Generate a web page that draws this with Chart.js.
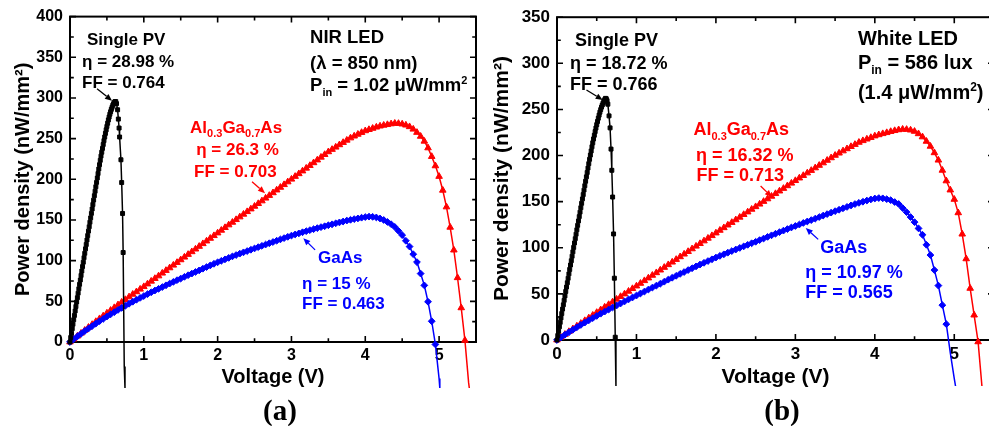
<!DOCTYPE html>
<html>
<head>
<meta charset="utf-8">
<script src="https://cdn.jsdelivr.net/npm/chart.js@4/dist/chart.umd.min.js"></script>
<style>
  html, body { margin: 0; padding: 0; background: #fff; overflow: hidden; width: 989px; height: 426px; }
  #wrap { position: relative; width: 989px; height: 426px; overflow: hidden; }
  canvas { position: absolute; top: 0; }
  #chartA { left: 0; }
  #chartB { left: 490px; }
  .tag { position: absolute; top: 410px; transform: translate(-50%, -50%);
         font: bold 29px "Liberation Serif", "Times New Roman", serif; color: #000; }
</style>
</head>
<body>
<div id="wrap">
  <canvas id="chartA" width="490" height="426"></canvas>
  <canvas id="chartB" width="509" height="426"></canvas>
  <div class="tag" style="left:280px">(a)</div>
  <div class="tag" style="left:782px">(b)</div>
</div>
<script>
// ---- Axis ticks ----
const xTicks = [0, 1, 2, 3, 4, 5];
const yTicksA = [0, 50, 100, 150, 200, 250, 300, 350, 400];
const yTicksB = [0, 50, 100, 150, 200, 250, 300, 350];

// ---- (a) NIR LED, λ = 850 nm : [voltage (V), power density (nW/mm²)] ----
const nirSinglePV = [[0,0],[0.01,5.5],[0.02,10.9],[0.03,16.4],[0.04,21.8],[0.05,27.3],[0.06,32.7],[0.07,38.2],[0.08,43.6],[0.09,49.1],[0.10,54.5],[0.11,60],[0.12,65.4],[0.13,70.9],[0.14,76.3],[0.15,81.8],[0.16,87.2],[0.17,92.7],[0.18,98.1],[0.19,103.6],[0.20,109],[0.21,114.5],[0.22,119.9],[0.23,125.4],[0.24,130.8],[0.25,136.3],[0.26,141.7],[0.27,147.2],[0.28,152.6],[0.29,158.1],[0.30,163.5],[0.31,169],[0.32,174.4],[0.33,179.9],[0.34,185.3],[0.35,190.8],[0.36,196.2],[0.37,201.7],[0.38,207.1],[0.39,212.6],[0.40,218],[0.41,223.3],[0.42,228.5],[0.43,233.3],[0.44,238],[0.45,242.8],[0.46,247.5],[0.47,252],[0.48,256.5],[0.49,260.8],[0.50,265],[0.51,269],[0.52,273],[0.53,276.5],[0.54,280],[0.55,283],[0.56,286],[0.57,288.5],[0.58,291],[0.59,292.8],[0.60,294.5],[0.61,295.5],[0.62,295.5],[0.63,293],[0.645,285.5],[0.655,274],[0.665,263],[0.672,252],[0.69,224],[0.70,196],[0.712,158],[0.72,110],[0.735,-30],[0.745,-57]];

const nirAlGaAs = [[0,0],[0.05,3.6],[0.1,7.2],[0.15,10.8],[0.2,14.4],[0.25,18],[0.3,21.5],[0.35,25.1],[0.4,28.6],[0.45,32],[0.5,35.5],[0.55,38.9],[0.6,42.2],[0.65,45.6],[0.7,48.9],[0.75,52.1],[0.8,55.4],[0.85,58.6],[0.9,61.7],[0.95,64.9],[1,68],[1.05,71.3],[1.1,74.7],[1.15,78],[1.2,81.2],[1.25,84.6],[1.3,87.9],[1.35,91.1],[1.4,94.4],[1.45,97.7],[1.5,101],[1.55,104.3],[1.6,107.6],[1.65,110.9],[1.7,114.2],[1.75,117.5],[1.8,120.8],[1.85,124.1],[1.9,127.4],[1.95,130.7],[2,134],[2.05,137.3],[2.1,140.6],[2.15,143.9],[2.2,147.1],[2.25,150.4],[2.3,153.7],[2.35,157],[2.4,160.2],[2.45,163.5],[2.5,166.8],[2.55,170.1],[2.6,173.4],[2.65,176.8],[2.7,180.1],[2.75,183.4],[2.8,186.8],[2.85,190.1],[2.9,193.4],[2.95,196.8],[3,200.1],[3.05,203.5],[3.1,206.8],[3.15,210.2],[3.2,213.6],[3.25,216.9],[3.3,220.3],[3.35,223.7],[3.4,227.1],[3.45,230.4],[3.5,233.8],[3.55,236.7],[3.6,239.5],[3.65,242.4],[3.7,245.2],[3.75,248],[3.8,250.8],[3.85,253.1],[3.9,255.3],[3.95,257.5],[4,259.6],[4.05,261.1],[4.1,262.6],[4.15,264.1],[4.2,265.4],[4.25,266.4],[4.3,267.2],[4.35,268.1],[4.4,268.8],[4.45,268.6],[4.5,267.9],[4.55,266.6],[4.6,264.6],[4.65,261.6],[4.7,257.6],[4.75,252.8],[4.8,246.8],[4.85,238.6],[4.9,228],[4.95,216.5],[5,203.5],[5.05,186.5],[5.1,166],[5.15,141],[5.2,113],[5.25,79],[5.3,42],[5.35,2],[5.4,-50],[5.41,-57]];

const nirGaAs = [[0,0],[0.05,3.5],[0.1,6.8],[0.15,10.1],[0.2,13.4],[0.25,16.5],[0.3,19.6],[0.35,22.6],[0.4,25.6],[0.45,28.4],[0.5,31.3],[0.55,34],[0.6,36.7],[0.65,39.4],[0.7,42],[0.75,44.5],[0.8,47],[0.85,49.5],[0.9,51.9],[0.95,54.2],[1,56.5],[1.05,58.8],[1.1,61.1],[1.15,63.3],[1.2,65.4],[1.25,67.5],[1.3,69.7],[1.35,71.8],[1.4,73.9],[1.45,76],[1.5,78],[1.55,80.1],[1.6,82.1],[1.65,84.1],[1.7,86.1],[1.75,88],[1.8,90.1],[1.85,92.1],[1.9,94.1],[1.95,96.1],[2,98],[2.05,99.8],[2.1,101.6],[2.15,103.4],[2.2,105.2],[2.25,106.9],[2.3,108.6],[2.35,110.2],[2.4,111.8],[2.45,113.4],[2.5,115],[2.55,116.6],[2.6,118.2],[2.65,119.8],[2.7,121.4],[2.75,122.9],[2.8,124.5],[2.85,126.1],[2.9,127.7],[2.95,129.3],[3,130.8],[3.05,132.2],[3.1,133.5],[3.15,134.9],[3.2,136.2],[3.25,137.5],[3.3,138.7],[3.35,140],[3.4,141.2],[3.45,142.3],[3.5,143.5],[3.55,144.7],[3.6,145.9],[3.65,147],[3.7,148.1],[3.75,149.3],[3.8,150.2],[3.85,151.1],[3.9,151.9],[3.95,152.8],[4,153.6],[4.05,154.1],[4.1,153.9],[4.15,153.1],[4.2,151.8],[4.25,150],[4.3,147.6],[4.35,144.8],[4.4,141.4],[4.45,136.6],[4.5,131.4],[4.55,124.4],[4.6,117.3],[4.65,107.9],[4.7,98.2],[4.75,84.1],[4.8,69.6],[4.85,49.5],[4.9,25.5],[4.95,-3],[5,-45],[5.01,-57]];

// ---- (b) White LED, 586 lux (1.4 μW/mm²) ----
const whiteSinglePV = [[0,0],[0.01,4.8],[0.02,9.6],[0.03,14.3],[0.04,19.1],[0.05,23.9],[0.06,28.7],[0.07,33.5],[0.08,38.2],[0.09,43],[0.10,47.8],[0.11,52.6],[0.12,57.4],[0.13,62.1],[0.14,66.9],[0.15,71.7],[0.16,76.5],[0.17,81.3],[0.18,86],[0.19,90.8],[0.20,95.6],[0.21,100.4],[0.22,105.2],[0.23,109.9],[0.24,114.7],[0.25,119.5],[0.26,124.3],[0.27,129.1],[0.28,133.8],[0.29,138.6],[0.30,143.4],[0.31,148.2],[0.32,153],[0.33,157.7],[0.34,162.5],[0.35,167.3],[0.36,172.1],[0.37,176.9],[0.38,181.6],[0.39,186.4],[0.40,191.2],[0.41,195.9],[0.42,200.5],[0.43,205],[0.44,209.5],[0.45,213.8],[0.46,218],[0.47,222],[0.48,226],[0.49,229.8],[0.50,233.5],[0.51,237],[0.52,240.5],[0.53,243.8],[0.54,247],[0.55,249.8],[0.56,252.5],[0.57,254.8],[0.58,257],[0.59,258.8],[0.60,260.5],[0.61,262],[0.62,261.5],[0.63,259.5],[0.64,255.7],[0.655,243],[0.668,230],[0.68,207],[0.69,184],[0.70,155],[0.712,115],[0.722,67],[0.733,3],[0.742,-52]];

const whiteAlGaAs = [[0,0],[0.05,3],[0.1,6.1],[0.15,9.1],[0.2,12.1],[0.25,15.1],[0.3,18],[0.35,21],[0.4,23.9],[0.45,26.8],[0.5,29.8],[0.55,32.7],[0.6,35.6],[0.65,38.4],[0.7,41.3],[0.75,44.2],[0.8,47.1],[0.85,49.9],[0.9,52.8],[0.95,55.7],[1,58.5],[1.05,61.4],[1.1,64.3],[1.15,67.2],[1.2,70.1],[1.25,72.9],[1.3,75.8],[1.35,78.7],[1.4,81.6],[1.45,84.4],[1.5,87.3],[1.55,90.2],[1.6,93.1],[1.65,95.9],[1.7,98.8],[1.75,101.7],[1.8,104.5],[1.85,107.4],[1.9,110.3],[1.95,113.1],[2,116],[2.05,118.9],[2.1,121.7],[2.15,124.6],[2.2,127.4],[2.25,130.3],[2.3,133.1],[2.35,136],[2.4,138.8],[2.45,141.7],[2.5,144.5],[2.55,147.3],[2.6,150.2],[2.65,153],[2.7,155.8],[2.75,158.7],[2.8,161.5],[2.85,164.3],[2.9,167.2],[2.95,170],[3,172.8],[3.05,175.6],[3.1,178.3],[3.15,181.1],[3.2,183.8],[3.25,186.6],[3.3,189.3],[3.35,192],[3.4,194.8],[3.45,197.5],[3.5,200.2],[3.55,202.6],[3.6,205],[3.65,207.3],[3.7,209.7],[3.75,212],[3.8,214.3],[3.85,216.1],[3.9,217.8],[3.95,219.5],[4,221.2],[4.05,222.5],[4.1,223.7],[4.15,224.8],[4.2,226],[4.25,227],[4.3,227.9],[4.35,228.5],[4.4,228.3],[4.45,227.6],[4.5,226.2],[4.55,223.6],[4.6,220.2],[4.65,215.4],[4.7,210],[4.75,203],[4.8,195],[4.85,184],[4.9,172.5],[4.95,162.6],[5,152.5],[5.05,137.9],[5.1,114.8],[5.15,88],[5.2,56],[5.25,27],[5.3,-2],[5.35,-52]];

const whiteGaAs = [[0,0],[0.05,2.9],[0.1,5.7],[0.15,8.4],[0.2,11.1],[0.25,13.8],[0.3,16.3],[0.35,18.9],[0.4,21.3],[0.45,23.7],[0.5,26.1],[0.55,28.5],[0.6,30.8],[0.65,33],[0.7,35.3],[0.75,37.4],[0.8,39.6],[0.85,41.8],[0.9,44],[0.95,46.1],[1,48.2],[1.05,50.4],[1.1,52.5],[1.15,54.7],[1.2,56.8],[1.25,58.9],[1.3,61],[1.35,63.2],[1.4,65.4],[1.45,67.5],[1.5,69.6],[1.55,71.7],[1.6,73.7],[1.65,75.8],[1.7,77.8],[1.75,79.8],[1.8,81.8],[1.85,83.7],[1.9,85.6],[1.95,87.5],[2,89.4],[2.05,91.2],[2.1,92.9],[2.15,94.7],[2.2,96.4],[2.25,98.1],[2.3,99.8],[2.35,101.5],[2.4,103.2],[2.45,104.9],[2.5,106.5],[2.55,108.3],[2.6,110],[2.65,111.8],[2.7,113.5],[2.75,115.2],[2.8,116.9],[2.85,118.6],[2.9,120.3],[2.95,122],[3,123.6],[3.05,125.2],[3.1,126.9],[3.15,128.5],[3.2,130],[3.25,131.6],[3.3,133.3],[3.35,134.9],[3.4,136.5],[3.45,138.1],[3.5,139.7],[3.55,141.2],[3.6,142.8],[3.65,144.3],[3.7,145.9],[3.75,147.4],[3.8,148.7],[3.85,149.9],[3.9,151.2],[3.95,152.4],[4,153.4],[4.05,153.9],[4.1,153.6],[4.15,152.7],[4.2,151.6],[4.25,149.6],[4.3,147.5],[4.35,143.1],[4.4,138.6],[4.45,133.3],[4.5,127.8],[4.55,121],[4.6,114.1],[4.65,103.2],[4.7,92.1],[4.75,75.8],[4.8,59],[4.85,37.8],[4.9,17.2],[4.95,-13.9],[5,-42],[5.02,-52]];

// ---- Drawing helpers ----
const SANS = '"Liberation Sans", Arial, Helvetica, sans-serif';
const RED = '#ff0000', BLUE = '#0000ff', BLACK = '#000000';

function drawRich(ctx, x, y, parts, size, align) {
  const main = `bold ${size}px ${SANS}`;
  const small = `bold ${Math.round(size * 0.62)}px ${SANS}`;
  const segs = parts.map(p => typeof p === 'string' ? {t: p, k: 'n'} : {t: p[0], k: p[1]});
  let total = 0;
  for (const s of segs) {
    ctx.font = s.k === 'n' ? main : small;
    s.w = ctx.measureText(s.t).width;
    total += s.w;
  }
  let cx = align === 'center' ? x - total / 2 : x;
  const base = y + size * 0.36;
  ctx.textAlign = 'left';
  ctx.textBaseline = 'alphabetic';
  for (const s of segs) {
    ctx.font = s.k === 'n' ? main : small;
    const dy = s.k === 'sub' ? size * 0.24 : (s.k === 'sup' ? -size * 0.42 : 0);
    ctx.fillText(s.t, cx, base + dy);
    cx += s.w;
  }
}

function drawArrow(ctx, x1, y1, x2, y2, color) {
  const ang = Math.atan2(y2 - y1, x2 - x1);
  const hl = 7, hw = 3;
  ctx.strokeStyle = color;
  ctx.fillStyle = color;
  ctx.lineWidth = 1.3;
  ctx.beginPath();
  ctx.moveTo(x1, y1);
  ctx.lineTo(x2 - hl * Math.cos(ang), y2 - hl * Math.sin(ang));
  ctx.stroke();
  ctx.beginPath();
  ctx.moveTo(x2, y2);
  ctx.lineTo(x2 - hl * Math.cos(ang) + hw * Math.sin(ang), y2 - hl * Math.sin(ang) - hw * Math.cos(ang));
  ctx.lineTo(x2 - hl * Math.cos(ang) - hw * Math.sin(ang), y2 - hl * Math.sin(ang) + hw * Math.cos(ang));
  ctx.closePath();
  ctx.fill();
}

// Closed box with inward major/minor ticks on all four sides
const frameTicks = {
  id: 'frameTicks',
  beforeDatasetsDraw(chart, args, opts) {
    const {ctx, chartArea: a, scales: {x, y}} = chart;
    ctx.save();
    ctx.strokeStyle = BLACK;
    ctx.lineWidth = 2;
    ctx.strokeRect(a.left, a.top, a.right - a.left, a.bottom - a.top);
    ctx.lineWidth = 1.6;
    ctx.beginPath();
    const majorLen = 6, minorLen = 3.8;
    for (let i = 0; i * opts.xMinor <= x.max + 1e-9; i++) {
      const px = x.getPixelForValue(i * opts.xMinor);
      const len = (i % 2 === 0) ? majorLen : minorLen;
      ctx.moveTo(px, a.bottom); ctx.lineTo(px, a.bottom - len);
      ctx.moveTo(px, a.top); ctx.lineTo(px, a.top + len);
    }
    for (let i = 0; i * opts.yMinor <= y.max + 1e-9; i++) {
      const py = y.getPixelForValue(i * opts.yMinor);
      const len = (i % 2 === 0) ? majorLen : minorLen;
      ctx.moveTo(a.left, py); ctx.lineTo(a.left + len, py);
      ctx.moveTo(a.right, py); ctx.lineTo(a.right - len, py);
    }
    ctx.stroke();
    ctx.restore();
  }
};

// Curve labels and pointer arrows, placed in data coordinates
const notes = {
  id: 'notes',
  afterDatasetsDraw(chart, args, opts) {
    const {ctx, scales: {x, y}} = chart;
    ctx.save();
    for (const n of opts.items) {
      ctx.fillStyle = n.color;
      drawRich(ctx, x.getPixelForValue(n.v), y.getPixelForValue(n.p), n.parts, n.size, n.align || 'left');
    }
    for (const ar of opts.arrows) {
      drawArrow(ctx, x.getPixelForValue(ar.from[0]), y.getPixelForValue(ar.from[1]),
                x.getPixelForValue(ar.to[0]), y.getPixelForValue(ar.to[1]), ar.color);
    }
    ctx.restore();
  }
};

function series(data, color, style, radius) {
  return {
    data: data.map(d => ({x: d[0], y: d[1]})),
    borderColor: color,
    backgroundColor: color,
    pointBackgroundColor: color,
    pointBorderColor: color,
    pointBorderWidth: 1,
    pointStyle: style,
    pointRadius: radius,
    borderWidth: 1.5,
    tension: 0,
    clip: {left: 8, top: 8, right: 8, bottom: 46}
  };
}

function makeChart(id, cfg) {
  return new Chart(document.getElementById(id), {
    type: 'line',
    data: {
      datasets: [
        series(cfg.pv, BLACK, 'rect', 2.8),
        series(cfg.gaas, BLUE, 'rectRot', 3.4),
        series(cfg.algaas, RED, 'triangle', 3.8)
      ]
    },
    options: {
      responsive: false,
      animation: false,
      devicePixelRatio: 1,
      layout: {padding: {left: 0, right: cfg.padRight, top: 16, bottom: 0}},
      events: [],
      scales: {
        x: {
          type: 'linear', min: 0, max: 5.5,
          grid: {display: false, drawTicks: false},
          border: {display: false},
          afterBuildTicks: s => { s.ticks = xTicks.map(v => ({value: v})); },
          afterFit: s => { s.height = cfg.xAxisH; },
          ticks: {color: BLACK, padding: 4, maxRotation: 0, autoSkip: false,
                  font: {family: SANS, size: cfg.tickSize, weight: 'bold'}},
          title: {display: true, text: 'Voltage (V)', color: BLACK,
                  padding: {top: 0, bottom: cfg.xTitlePad},
                  font: {family: SANS, size: cfg.titleSize, weight: 'bold'}}
        },
        y: {
          type: 'linear', min: 0, max: cfg.yMax,
          grid: {display: false, drawTicks: false},
          border: {display: false},
          afterBuildTicks: s => { s.ticks = cfg.yTicks.map(v => ({value: v})); },
          afterFit: s => { s.width = cfg.yAxisW; },
          ticks: {color: BLACK, padding: 7, autoSkip: false,
                  font: {family: SANS, size: cfg.tickSize, weight: 'bold'}},
          title: {display: true, text: 'Power density (nW/mm²)', color: BLACK,
                  padding: {top: cfg.yTitlePad, bottom: 0},
                  font: {family: SANS, size: cfg.titleSize, weight: 'bold'}}
        }
      },
      plugins: {
        legend: {display: false},
        tooltip: {enabled: false},
        frameTicks: {xMinor: 0.5, yMinor: 25},
        notes: {items: cfg.items, arrows: cfg.arrows}
      }
    },
    plugins: [frameTicks, notes]
  });
}

// Panel (a)
makeChart('chartA', {
  pv: nirSinglePV, algaas: nirAlGaAs, gaas: nirGaAs,
  yMax: 400, yTicks: yTicksA,
  padRight: 14, xAxisH: 84, yAxisW: 70,
  tickSize: 16, titleSize: 20, xTitlePad: 37, yTitlePad: 11,
  items: [
    {v: 0.23, p: 373, parts: ['Single PV'], color: BLACK, size: 17},
    {v: 0.163, p: 345, parts: ['η = 28.98 %'], color: BLACK, size: 17},
    {v: 0.163, p: 320, parts: ['FF = 0.764'], color: BLACK, size: 17},
    {v: 3.252, p: 375.8, parts: ['NIR LED'], color: BLACK, size: 18.5},
    {v: 3.252, p: 344, parts: ['(λ = 850 nm)'], color: BLACK, size: 18.5},
    {v: 3.252, p: 316.3, parts: ['P', ['in', 'sub'], ' = 1.02 μW/mm', ['2', 'sup']], color: BLACK, size: 18.5},
    {v: 2.25, p: 264.6, parts: ['Al', ['0.3', 'sub'], 'Ga', ['0.7', 'sub'], 'As'], color: RED, size: 17, align: 'center'},
    {v: 2.27, p: 237.5, parts: ['η = 26.3 %'], color: RED, size: 17, align: 'center'},
    {v: 2.24, p: 210.5, parts: ['FF = 0.703'], color: RED, size: 17, align: 'center'},
    {v: 3.36, p: 105, parts: ['GaAs'], color: BLUE, size: 17},
    {v: 3.144, p: 72.2, parts: ['η = 15 %'], color: BLUE, size: 17},
    {v: 3.144, p: 47.6, parts: ['FF = 0.463'], color: BLUE, size: 17}
  ],
  arrows: [
    {from: [0.366, 311.4], to: [0.569, 296.6], color: BLACK},
    {from: [2.466, 196.9], to: [2.642, 183], color: RED},
    {from: [3.32, 113.2], to: [3.161, 127.6], color: BLUE}
  ]
});

// Panel (b)
makeChart('chartB', {
  pv: whiteSinglePV, algaas: whiteAlGaAs, gaas: whiteGaAs,
  yMax: 350, yTicks: yTicksB,
  padRight: 2, xAxisH: 86, yAxisW: 67,
  tickSize: 17, titleSize: 21, xTitlePad: 36, yTitlePad: 0,
  items: [
    {v: 0.225, p: 325.7, parts: ['Single PV'], color: BLACK, size: 18},
    {v: 0.1625, p: 300.9, parts: ['η = 18.72 %'], color: BLACK, size: 18},
    {v: 0.1625, p: 278.2, parts: ['FF = 0.766'], color: BLACK, size: 18},
    {v: 3.7875, p: 327.9, parts: ['White LED'], color: BLACK, size: 20},
    {v: 3.7875, p: 301.4, parts: ['P', ['in', 'sub'], ' = 586 lux'], color: BLACK, size: 20},
    {v: 3.7875, p: 269, parts: ['(1.4 μW/mm', ['2', 'sup'], ')'], color: BLACK, size: 20},
    {v: 2.319, p: 229, parts: ['Al', ['0.3', 'sub'], 'Ga', ['0.7', 'sub'], 'As'], color: RED, size: 18, align: 'center'},
    {v: 2.3625, p: 201.5, parts: ['η = 16.32 %'], color: RED, size: 18, align: 'center'},
    {v: 2.306, p: 179.9, parts: ['FF = 0.713'], color: RED, size: 18, align: 'center'},
    {v: 3.3125, p: 101.5, parts: ['GaAs'], color: BLUE, size: 18},
    {v: 3.125, p: 74, parts: ['η = 10.97 %'], color: BLUE, size: 18},
    {v: 3.125, p: 52.9, parts: ['FF = 0.565'], color: BLUE, size: 18}
  ],
  arrows: [
    {from: [0.371, 271.1], to: [0.575, 260.3], color: BLACK},
    {from: [2.5625, 166.9], to: [2.704, 155], color: RED},
    {from: [3.2875, 109.1], to: [3.131, 121.5], color: BLUE}
  ]
});
</script>
</body>
</html>
